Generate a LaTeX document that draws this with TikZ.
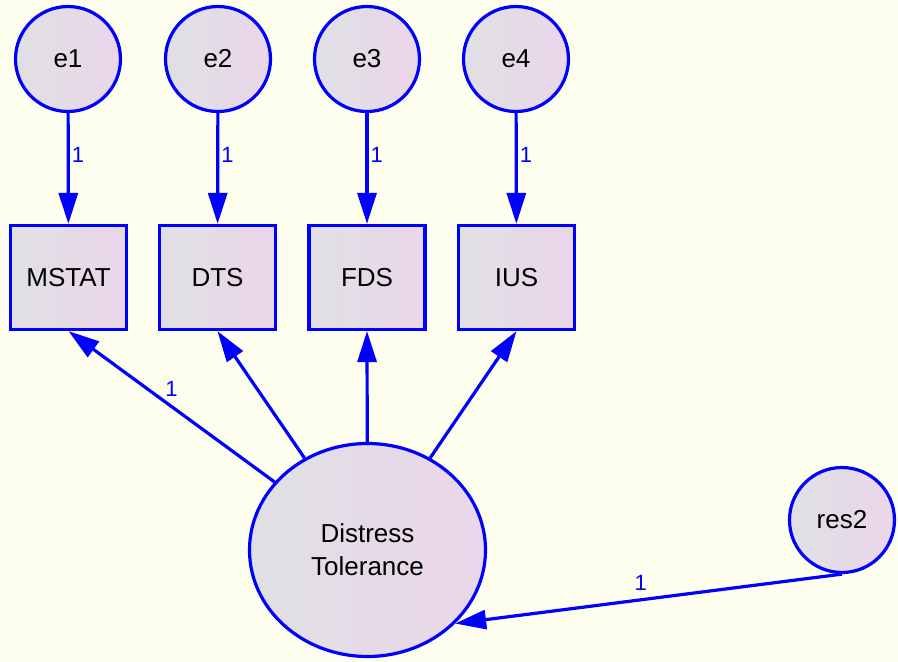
\documentclass[tikz,border=0pt]{standalone}
\usepackage{fontspec}
\setmainfont{Liberation Sans}
\usetikzlibrary{shapes.geometric,arrows.meta}
\definecolor{paper}{RGB}{254,254,238}
\definecolor{edge}{RGB}{0,0,255}
\definecolor{fillA}{RGB}{224,224,228}
\definecolor{fillB}{RGB}{234,214,234}
\tikzset{
  latent/.style={circle, draw=edge, line width=3.2pt, minimum size=105pt, inner sep=0pt,
    left color=fillA, right color=fillB, font=\fontsize{26}{30}\selectfont},
  observed/.style={rectangle, draw=edge, line width=3.2pt, minimum width=116pt, minimum height=104pt,
    inner sep=0pt, left color=fillA, right color=fillB, font=\fontsize{26}{30}\selectfont},
  factor/.style={ellipse, draw=edge, line width=3.2pt, minimum width=236pt, minimum height=213pt,
    inner sep=0pt, left color=fillA, right color=fillB, align=center,
    font=\fontsize{26}{33}\selectfont},
  path/.style={draw=edge, line width=3.2pt, -{Triangle[length=31pt,width=19pt]}},
  weight/.style={text=edge, font=\fontsize{22}{24}\selectfont, inner sep=2pt}
}
\begin{document}
\begin{tikzpicture}[x=1pt,y=-1pt]
  \fill[paper] (0,0) rectangle (898,662);
  \useasboundingbox (0,0) rectangle (898,662);

  % error terms
  \node[latent] (e1) at (68,59) {e1};
  \node[latent] (e2) at (218,59) {e2};
  \node[latent] (e3) at (367,59) {e3};
  \node[latent] (e4) at (516,59) {e4};

  % indicators
  \node[observed] (mstat) at (68.5,277.5) {MSTAT};
  \node[observed] (dts) at (217.5,277.5) {DTS};
  \node[observed] (fds) at (367,277.5) {FDS};
  \node[observed] (ius) at (516.5,277.5) {IUS};

  % latent factor and its residual
  \node[factor] (dt) at (367.5,550) {Distress\\Tolerance};
  \node[latent] (res2) at (842,520) {res2};

  % error paths
  \draw[path] (e1) -- node[weight, right, pos=0.38] {1} (mstat);
  \draw[path] (e2) -- node[weight, right, pos=0.38] {1} (dts);
  \draw[path] (e3) -- node[weight, right, pos=0.38] {1} (fds);
  \draw[path] (e4) -- node[weight, right, pos=0.38] {1} (ius);

  % loadings
  \draw[path] (dt) -- node[weight, above, pos=0.5, inner sep=8pt] {1} (mstat.south);
  \draw[path] (dt) -- (dts.south);
  \draw[path] (dt) -- (fds.south);
  \draw[path] (dt) -- (ius.south);

  % residual path
  \draw[path] (res2.south) -- node[weight, above, pos=0.52, inner sep=8pt] {1} (dt.-40);
\end{tikzpicture}
\end{document}
